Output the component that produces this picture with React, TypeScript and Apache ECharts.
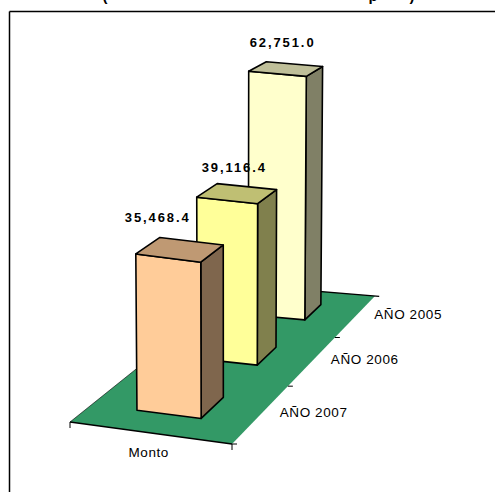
import React, { useEffect, useRef } from "react";
import * as echarts from "echarts";

const categories = ["AÑO 2007", "AÑO 2006", "AÑO 2005"];
const amounts = [35468.4, 39116.4, 62751.0];
const seriesName = "Monto";
const frontColors = ["#FFCC99", "#FFFF99", "#FFFFCC"];
const sideColors = ["#7F664D", "#80804D", "#808066"];
const topColors = ["#BF9973", "#BFBF73", "#BFBF99"];
const floorColor = "#339966";
const titleGlyphs = ["(", "p", ")"];
const titleGlyphX = [105, 373, 412];
const labelOffsetX = [-11, 5, 1];
const labelOffsetY = [-20, -16, -19];

const FONT = '"Liberation Sans", Arial, sans-serif';
const GRID = { left: 100, top: 90, width: 300, height: 315 };

// Corners of the floor plane on screen: front-left, front-right, back-right, back-left.
const FLOOR = [
  [70, 422],
  [232, 444],
  [375, 296],
  [241, 285],
];

// Square-to-quad perspective mapping for the floor plane.
function makeFloorMap(q: number[][]) {
  const [[x0, y0], [x1, y1], [x2, y2], [x3, y3]] = q;
  const dx1 = x1 - x2, dy1 = y1 - y2, dx2 = x3 - x2, dy2 = y3 - y2;
  const sx = x0 - x1 + x2 - x3, sy = y0 - y1 + y2 - y3;
  const den = dx1 * dy2 - dx2 * dy1;
  const g = (sx * dy2 - dx2 * sy) / den;
  const h = (dx1 * sy - sx * dy1) / den;
  const a = x1 - x0 + g * x1, b = x3 - x0 + h * x3;
  const d = y1 - y0 + g * y1, e = y3 - y0 + h * y3;
  return (u: number, v: number) => {
    const w = g * u + h * v + 1;
    return [(a * u + b * v + x0) / w, (d * u + e * v + y0) / w];
  };
}
const onFloor = makeFloorMap(FLOOR);

// Lifts a floor point by a height in axis pixels, foreshortened with depth
// and leaning slightly outwards, as verticals do when seen from above.
function lift(u: number, v: number, height: number) {
  const [x, y] = onFloor(u, v);
  const h = height / (1 + 0.207 * v);
  return [x + (x - 230) * h * 0.00008, y - h];
}

const BAR_U = [0.295, 0.7];
const BAR_HALF_DEPTH = 0.0625;

function renderFloor() {
  const line = (points: number[][], lineWidth: number) => ({
    type: "polyline",
    shape: { points },
    style: { stroke: "#000", lineWidth, fill: "none" },
  });
  const right = (v: number) => onFloor(1, v);
  const ticks = [0, 1 / 3, 2 / 3].map((v) => {
    const [x, y] = right(v);
    return line([[x, y], [x + 5, y]], 1);
  });
  const children: any[] = [
    { type: "polygon", shape: { points: [0, 1, 2, 3].map((i) => FLOOR[i]) }, style: { fill: floorColor } },
    line([FLOOR[0], FLOOR[1]], 1.3),
    line([FLOOR[3], FLOOR[0]], 0.6),
    line([FLOOR[3], onFloor(1.03, 1)], 1.3),
    line([FLOOR[0], [FLOOR[0][0], FLOOR[0][1] + 6]], 1),
    line([FLOOR[1], [FLOOR[1][0], FLOOR[1][1] + 6]], 1),
    ...ticks,
  ];
  const [mx, my] = onFloor(0.5, 0);
  children.push({
    type: "text",
    style: { text: seriesName, x: mx, y: my + 20, fontSize: 13.5, fontFamily: FONT, fill: "#000", align: "center", verticalAlign: "middle" },
  });
  categories.forEach((name, i) => {
    const [x, y] = onFloor(1, (i + 0.5) / 3);
    children.push({
      type: "text",
      style: { text: name, x: x + 18.5, y: y - 1, fontSize: 13.5, fontFamily: FONT, fill: "#000", align: "left", verticalAlign: "middle" },
    });
  });
  return { type: "group", children };
}

function renderBar(_: any, api: any) {
  const i = api.value(0);
  const base = api.coord([i, 0]);
  const top = api.coord([i, api.value(1)]);
  const height = base[1] - top[1];
  // The category axis runs along the floor's depth.
  const depth = (base[0] - GRID.left) / GRID.width;
  const v0 = depth - BAR_HALF_DEPTH;
  const v1 = depth + BAR_HALF_DEPTH;
  const [u0, u1] = BAR_U;
  const outline = { stroke: "#000", lineWidth: 1.6, lineJoin: "round" };
  const face = (fill: string, points: number[][]) => ({
    type: "polygon",
    shape: { points },
    style: { fill, ...outline },
  });
  const labelAnchor = lift(u0, v1, height);
  const frontTopLeft = lift(u0, v0, height);
  return {
    type: "group",
    children: [
      face(sideColors[i], [lift(u1, v0, 0), lift(u1, v1, 0), lift(u1, v1, height), lift(u1, v0, height)]),
      face(frontColors[i], [lift(u0, v0, 0), lift(u1, v0, 0), lift(u1, v0, height), lift(u0, v0, height)]),
      face(topColors[i], [lift(u0, v0, height), lift(u1, v0, height), lift(u1, v1, height), lift(u0, v1, height)]),
      {
        type: "text",
        z2: 10,
        style: {
          text: amounts[i].toLocaleString("en-US", { minimumFractionDigits: 1, maximumFractionDigits: 1 }),
          x: frontTopLeft[0] + labelOffsetX[i],
          y: labelAnchor[1] + labelOffsetY[i],
          fontSize: 13,
          fontWeight: "bold",
          fontFamily: FONT,
          fill: "#000",
          align: "left",
          verticalAlign: "middle",
        },
      },
    ],
  };
}

export default function App() {
  const ref = useRef<HTMLDivElement>(null);
  useEffect(() => {
    document.body.style.margin = "0";
    const chart = echarts.init(ref.current!, undefined, { renderer: "svg" });
    chart.setOption({
      animation: false,
      backgroundColor: "#fff",
      grid: GRID,
      xAxis: { type: "category", data: categories, show: false },
      yAxis: { type: "value", min: 0, max: 70000, show: false },
      graphic: [
        { type: "line", shape: { x1: 9.5, y1: 11.5, x2: 495, y2: 11.5 }, style: { stroke: "#000", lineWidth: 1.5 } },
        { type: "line", shape: { x1: 9.5, y1: 11.5, x2: 9.5, y2: 492 }, style: { stroke: "#000", lineWidth: 1.5 } },
        ...titleGlyphs.map((text, i) => ({
          type: "text",
          x: titleGlyphX[i],
          y: -5,
          style: { text, fontSize: 15, fontWeight: "bold", fontFamily: FONT, fill: "#000", align: "center", verticalAlign: "middle" },
        })),
      ],
      series: [
        { type: "custom", clip: false, silent: true, renderItem: renderFloor, data: [[0, 0]], z: 1 },
        {
          type: "custom",
          clip: false,
          silent: true,
          renderItem: renderBar,
          // Farthest bar first, so the nearer ones overlap it.
          data: amounts.map((value, i) => [i, value]).reverse(),
          encode: { x: 0, y: 1 },
          z: 2,
        },
      ],
    });
    // Widely tracked lettering on the chart's labels.
    ref.current!.querySelectorAll("text").forEach((node) => {
      const t = node.textContent || "";
      if (/^\d+,/.test(t)) node.style.letterSpacing = "1.9px";
      else if (t.length > 1) node.style.letterSpacing = "0.6px";
    });
    return () => chart.dispose();
  }, []);
  return <div ref={ref} style={{ width: 495, height: 492, overflow: "hidden" }} />;
}
